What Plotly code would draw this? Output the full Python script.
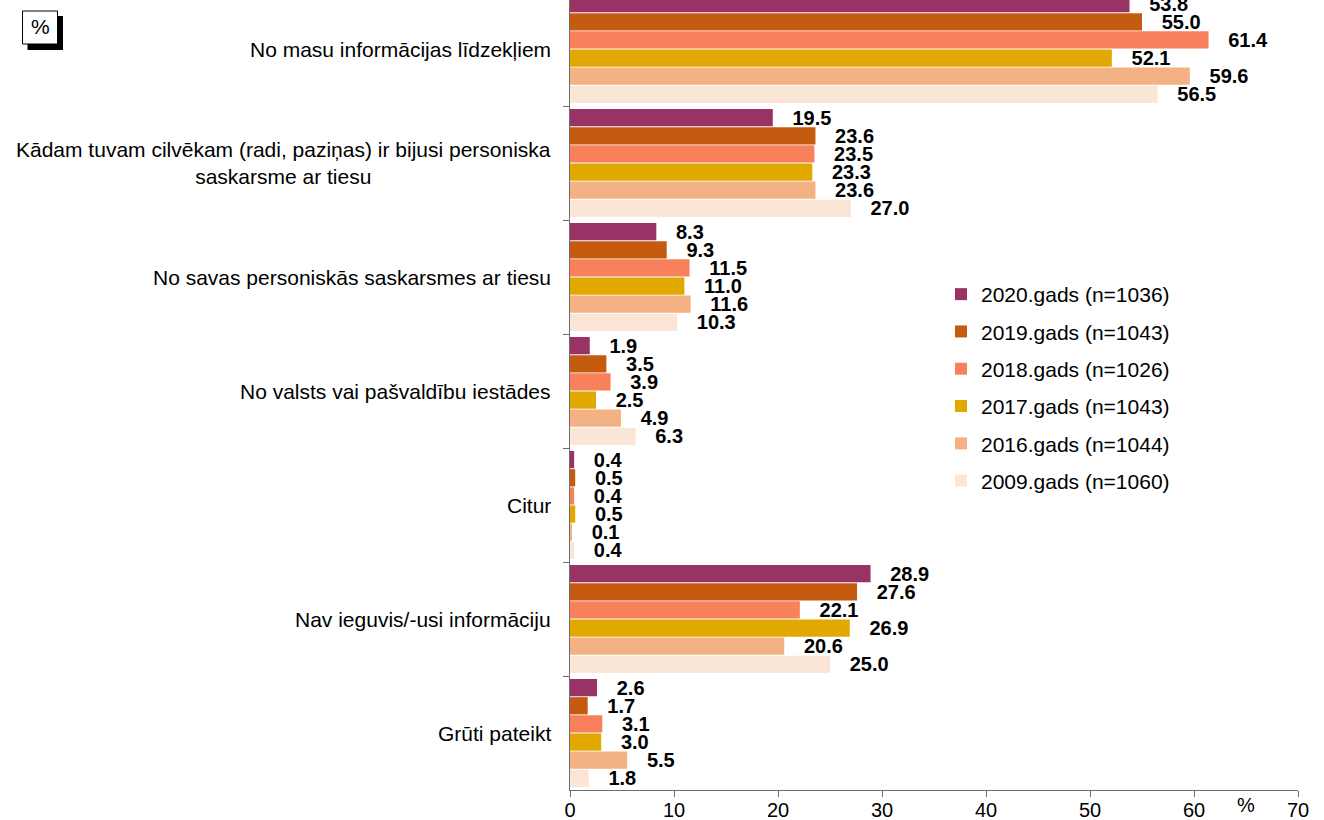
import plotly.graph_objects as go

categories = [
    "No masu informācijas līdzekļiem",
    "Kādam tuvam cilvēkam (radi, paziņas) ir bijusi personiska<br>saskarsme ar tiesu",
    "No savas personiskās saskarsmes ar tiesu",
    "No valsts vai pašvaldību iestādes",
    "Citur",
    "Nav ieguvis/-usi informāciju",
    "Grūti pateikt",
]

series_names = [
    "2020.gads (n=1036)",
    "2019.gads (n=1043)",
    "2018.gads (n=1026)",
    "2017.gads (n=1043)",
    "2016.gads (n=1044)",
    "2009.gads (n=1060)",
]

v2020 = [53.8, 19.5, 8.3, 1.9, 0.4, 28.9, 2.6]
v2019 = [55.0, 23.6, 9.3, 3.5, 0.5, 27.6, 1.7]
v2018 = [61.4, 23.5, 11.5, 3.9, 0.4, 22.1, 3.1]
v2017 = [52.1, 23.3, 11.0, 2.5, 0.5, 26.9, 3.0]
v2016 = [59.6, 23.6, 11.6, 4.9, 0.1, 20.6, 5.5]
v2009 = [56.5, 27.0, 10.3, 6.3, 0.4, 25.0, 1.8]

series_values = [v2020, v2019, v2018, v2017, v2016, v2009]
colors = ["#993366", "#C55A11", "#F8815C", "#E1A900", "#F4B183", "#FBE5D6"]

x_ticks = [0, 10, 20, 30, 40, 50, 60, 70]

FONT = "Arial, 'Liberation Sans', sans-serif"

# layout geometry (pixels)
L, R, T, B = 570, 26, 0, 30
W, H = 1324, 820
PW, PH = W - L - R, H - T - B
BAND = 114.0
TOP_CUT = 8.0

def px_x(px):
    return (px - L) / PW

def px_y(py):
    return (H - B - py) / PH

fig = go.Figure()
for i, (name, vals, col) in enumerate(zip(series_names, series_values, colors)):
    fig.add_trace(go.Bar(
        y=categories,
        x=vals,
        name=name,
        orientation="h",
        marker=dict(color=col, line=dict(width=0)),
        text=vals,
        texttemplate="\u00a0\u00a0\u00a0%{x:.1f}",
        textposition="outside",
        constraintext="none",
        cliponaxis=False,
        textfont=dict(family=FONT, size=20, color="black", weight="bold"),
        legendgroup=f"g{i}",
        hoverinfo="skip",
    ))

# category labels as annotations (centered multi-line)
for c in categories:
    fig.add_annotation(
        x=0, xref="paper", xshift=-17, xanchor="right",
        y=c, yref="y", yanchor="middle",
        text=c, showarrow=False, align="center",
        font=dict(family=FONT, size=21, color="black"),
    )

# "%" unit label on x axis
fig.add_annotation(
    x=65.0, xref="x", y=px_y(805), yref="paper", yanchor="middle",
    text="%", showarrow=False,
    font=dict(family=FONT, size=20, color="black"),
)

# "%" box with shadow (top-left)
fig.add_shape(type="rect", xref="paper", yref="paper",
              x0=px_x(27.5), x1=px_x(63), y0=px_y(50), y1=px_y(16),
              fillcolor="black", line=dict(width=0), layer="above")
fig.add_shape(type="rect", xref="paper", yref="paper",
              x0=px_x(22.5), x1=px_x(57.5), y0=px_y(44), y1=px_y(11),
              fillcolor="white", line=dict(color="black", width=1), layer="above")
fig.add_annotation(x=px_x(40), xref="paper", y=px_y(27), yref="paper",
                   xanchor="center", yanchor="middle",
                   text="%", showarrow=False,
                   font=dict(family=FONT, size=21, color="black"))

fig.update_layout(
    width=W, height=H,
    margin=dict(l=L, r=R, t=T, b=B, pad=0, autoexpand=False),
    plot_bgcolor="white", paper_bgcolor="white",
    barmode="group", bargap=0.045, bargroupgap=0.05,
    font=dict(family=FONT, size=20, color="black"),
    showlegend=True,
    legend=dict(
        x=px_x(941), y=px_y(274), xanchor="left", yanchor="top",
        font=dict(family=FONT, size=21, color="black"),
        tracegroupgap=7, bgcolor="rgba(0,0,0,0)",
        itemwidth=30,
    ),
    xaxis=dict(
        range=[0, 70], tickvals=x_ticks, ticktext=[str(t) for t in x_ticks],
        showgrid=False, zeroline=False,
        showline=True, linecolor="#6e6e6e", linewidth=1,
        ticks="outside", ticklen=6, tickcolor="#6e6e6e",
        ticklabelstandoff=-4,
        tickfont=dict(family=FONT, size=20, color="black"),
        fixedrange=True,
    ),
    yaxis=dict(
        type="category",
        categoryorder="array", categoryarray=categories,
        range=[6.5, -0.5 + TOP_CUT / BAND],
        showgrid=False, zeroline=False,
        showline=True, linecolor="#6e6e6e", linewidth=1,
        ticks="outside", ticklen=6, tickcolor="#6e6e6e",
        tickson="boundaries",
        showticklabels=False,
        fixedrange=True,
    ),
)

fig.write_html(
    "out.html",
    config={"displayModeBar": False},
    post_script="document.body.style.margin='0px';document.body.style.padding='0px';",
)
